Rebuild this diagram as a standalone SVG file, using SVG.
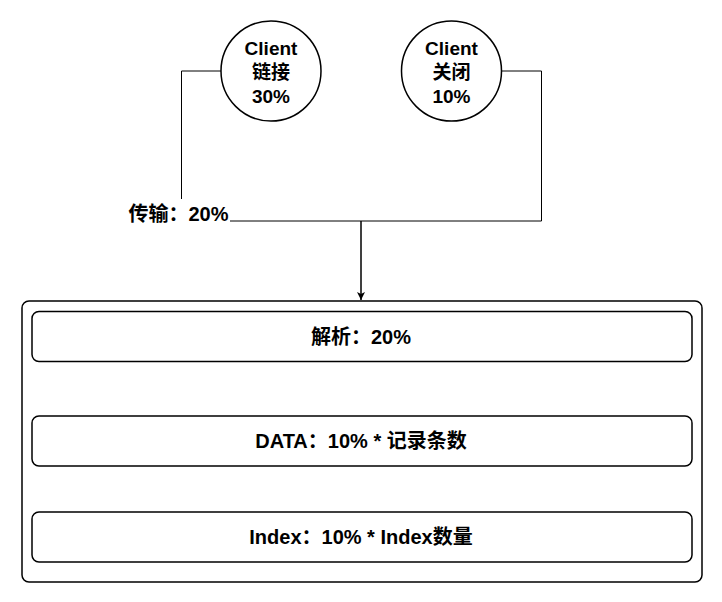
<svg xmlns="http://www.w3.org/2000/svg" width="722" height="602" viewBox="0 0 722 602">
<style>
.shape{fill:#fff;stroke:#000;stroke-width:1.5}
.edge{fill:none;stroke:#000;stroke-width:1}
.t{font-family:"Liberation Sans","Noto Sans CJK SC",Arial,sans-serif;font-weight:bold;font-size:20px;fill:#000;text-anchor:middle}
.c{font-size:19px}
</style>
<defs>
<marker id="arr" markerWidth="10" markerHeight="10" refX="8" refY="4" orient="auto" markerUnits="userSpaceOnUse">
<path d="M0,0 L8,4 L0,8 L2,4 Z" fill="#000"/>
</marker>
</defs>
<rect width="722" height="602" fill="#fff"/>
<g id="connectors">
<path class="edge" d="M221,71 H181.5 V221 H361 V300" marker-end="url(#arr)"/>
<path class="edge" d="M502,71 H541.5 V221 H361 V300"/>
<rect x="125" y="199" width="105" height="27" fill="#fff"/>
<text class="t" x="178.5" y="221">传输：20%</text>
</g>
<g id="client-connect">
<circle class="shape" cx="271" cy="71" r="50"/>
<text class="t c" x="271" y="55">Client</text>
<text class="t c" x="271" y="79">链接</text>
<text class="t c" x="271" y="103">30%</text>
</g>
<g id="client-close">
<circle class="shape" cx="451.5" cy="71" r="50"/>
<text class="t c" x="451.5" y="55">Client</text>
<text class="t c" x="451.5" y="79">关闭</text>
<text class="t c" x="451.5" y="103">10%</text>
</g>
<g id="container">
<rect class="shape" x="22" y="301" width="680" height="281" rx="7"/>
</g>
<g id="parse">
<rect class="shape" x="32" y="311.5" width="660" height="50" rx="7"/>
<text class="t" x="361" y="344">解析：20%</text>
</g>
<g id="data">
<rect class="shape" x="32" y="416" width="660" height="50" rx="7"/>
<text class="t" x="361" y="448">DATA：10% * 记录条数</text>
</g>
<g id="index">
<rect class="shape" x="32" y="512" width="660" height="50" rx="7"/>
<text class="t" x="361" y="544">Index：10% * Index数量</text>
</g>
</svg>
